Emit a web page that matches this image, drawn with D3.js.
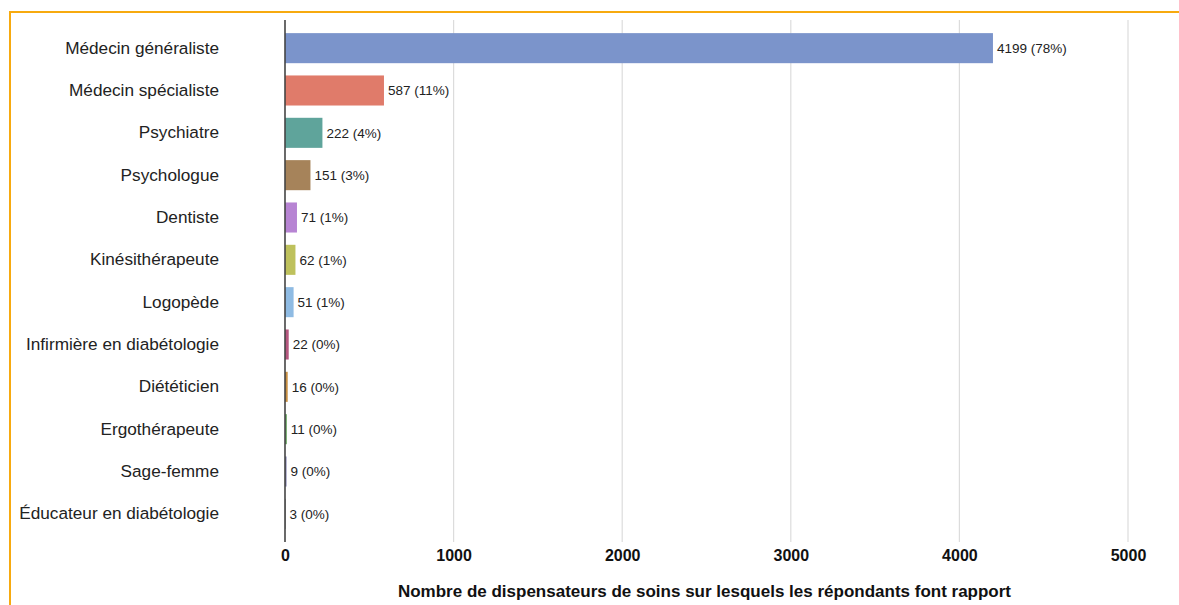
<!DOCTYPE html>
<html>
<head>
<meta charset="utf-8">
<script src="https://cdn.jsdelivr.net/npm/d3@7"></script>
<style>
  html, body { margin: 0; padding: 0; background: #fff; }
  svg { display: block; }
</style>
</head>
<body>
<svg id="chart" width="1179" height="605"></svg>
<script>
// Care providers reported by respondents
const categories = [
  "Médecin généraliste",
  "Médecin spécialiste",
  "Psychiatre",
  "Psychologue",
  "Dentiste",
  "Kinésithérapeute",
  "Logopède",
  "Infirmière en diabétologie",
  "Diététicien",
  "Ergothérapeute",
  "Sage-femme",
  "Éducateur en diabétologie"
];
const counts = [4199, 587, 222, 151, 71, 62, 51, 22, 16, 11, 9, 3];
const percents = [78, 11, 4, 3, 1, 1, 1, 0, 0, 0, 0, 0];
const xTicks = [0, 1000, 2000, 3000, 4000, 5000];
const barColors = [
  "#7b94cb", "#e07b6a", "#5fa49b", "#a6835a", "#b784d3", "#bec15c",
  "#8fbbe3", "#b5577f", "#c99042", "#6aa864", "#7878ab", "#666666"
];
const axisTitle = "Nombre de dispensateurs de soins sur lesquels les répondants font rapport";

const svg = d3.select("#chart");
const font = "'Liberation Sans', Arial, Helvetica, sans-serif";

// Frame accent lines
svg.append("line").attr("x1", 9).attr("x2", 1179).attr("y1", 12).attr("y2", 12)
  .attr("stroke", "#f7aa0f").attr("stroke-width", 2);
svg.append("line").attr("x1", 10).attr("x2", 10).attr("y1", 11).attr("y2", 605)
  .attr("stroke", "#f7aa0f").attr("stroke-width", 2);

const plot = { left: 285, right: 1128, top: 20, bottom: 542 };

const x = d3.scaleLinear().domain([0, 5000]).range([plot.left, plot.right]);
const y = d3.scaleBand().domain(categories).range([plot.top, plot.bottom])
  .paddingInner(0.29).paddingOuter(0.31);

// Vertical gridlines
svg.append("g").selectAll("line").data(xTicks.filter(d => d > 0)).join("line")
  .attr("x1", d => x(d)).attr("x2", d => x(d))
  .attr("y1", plot.top).attr("y2", plot.bottom)
  .attr("stroke", "#dcdcdc").attr("stroke-width", 1.2);

// Bars
svg.append("g").selectAll("rect").data(categories).join("rect")
  .attr("x", x(0))
  .attr("y", d => y(d))
  .attr("width", (d, i) => x(counts[i]) - x(0))
  .attr("height", y.bandwidth())
  .attr("fill", (d, i) => barColors[i]);

// Value labels
svg.append("g").selectAll("text").data(categories).join("text")
  .attr("x", (d, i) => x(counts[i]) + 4)
  .attr("y", d => y(d) + y.bandwidth() / 2)
  .attr("dy", "0.35em")
  .attr("font-family", font).attr("font-size", 13.5).attr("fill", "#222")
  .text((d, i) => `${counts[i]} (${percents[i]}%)`);

// Category axis
const yAxis = d3.axisLeft(y).tickSize(0).tickPadding(66);
const gy = svg.append("g").attr("transform", `translate(${plot.left},0)`).call(yAxis);
gy.select(".domain").remove();
gy.selectAll("text").attr("font-family", font).attr("font-size", 17.2).attr("fill", "#222");
svg.append("line").attr("x1", plot.left).attr("x2", plot.left)
  .attr("y1", plot.top).attr("y2", plot.bottom)
  .attr("stroke", "#444").attr("stroke-width", 1.6);

// Value axis
const xAxis = d3.axisBottom(x).tickValues(xTicks).tickSize(0).tickPadding(8)
  .tickFormat(d3.format("d"));
const gx = svg.append("g").attr("transform", `translate(0,${plot.bottom})`).call(xAxis);
gx.select(".domain").remove();
gx.selectAll("text").attr("font-family", font).attr("font-size", 16)
  .attr("font-weight", "bold").attr("fill", "#111");

svg.append("text")
  .attr("x", (plot.left + plot.right) / 2 - 2)
  .attr("y", 597)
  .attr("text-anchor", "middle")
  .attr("font-family", font).attr("font-size", 17).attr("font-weight", "bold")
  .attr("fill", "#111")
  .text(axisTitle);
</script>
</body>
</html>
